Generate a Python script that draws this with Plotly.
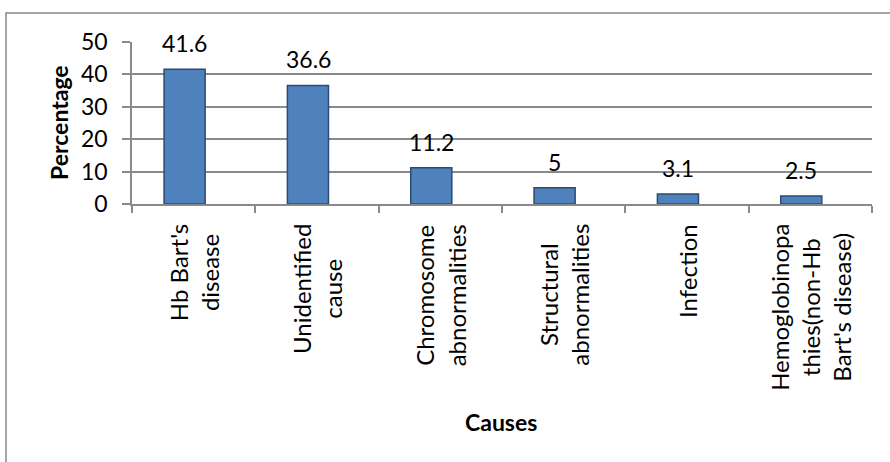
import plotly.graph_objects as go

# Causes and their share (%)
causes = [
    "Hb Bart's<br>disease",
    "Unidentified<br>cause",
    "Chromosome<br>abnormalities",
    "Structural<br>abnormalities",
    "Infection",
    "Hemoglobinopa<br>thies(non-Hb<br>Bart's disease)",
]
percent = [41.6, 36.6, 11.2, 5, 3.1, 2.5]
value_labels = ["41.6", "36.6", "11.2", "5", "3.1", "2.5"]
y_ticks = [0, 10, 20, 30, 40, 50]

FONT = "Lato, 'Liberation Sans', sans-serif"
GRID = "#8a8a8a"

W, H = 890, 462
ML, MR, MT, MB = 132, 18, 42, 258
PW, PH = W - ML - MR, H - MT - MB


def px_x(x):
    return (x - ML) / PW


def px_y(y):
    return (H - MB - y) / PH


fig = go.Figure()
fig.add_trace(go.Bar(
    x=causes,
    y=percent,
    width=0.333,
    offset=-0.24,
    marker=dict(color="#4f81bd", line=dict(color="#2c4a72", width=1.5)),
    hoverinfo="skip",
))

annotations = []
# value labels above each bar
for c, v, t in zip(causes, percent, value_labels):
    annotations.append(dict(
        x=c, y=v, xref="x", yref="y", text=t, showarrow=False,
        xanchor="center", yanchor="middle", xshift=-9, yshift=26,
        font=dict(family=FONT, size=23, color="#000000"),
    ))
# rotated category labels
for c in causes:
    annotations.append(dict(
        x=c, y=0, xref="x", yref="paper", text=c, showarrow=False,
        textangle=-90, xanchor="center", yanchor="top", yshift=-18,
        align="center",
        font=dict(family=FONT, size=24, color="#000000"),
    ))
# axis titles
annotations.append(dict(
    x=px_x(59), y=0.5, xref="paper", yref="paper", text="<b>Percentage</b>",
    showarrow=False, textangle=-90, xanchor="center", yanchor="middle",
    font=dict(family=FONT, size=23, color="#000000"),
))
annotations.append(dict(
    x=px_x(501), y=px_y(422), xref="paper", yref="paper", text="<b>Causes</b>",
    showarrow=False, xanchor="center", yanchor="middle",
    font=dict(family=FONT, size=23, color="#000000"),
))

fig.update_layout(
    width=W, height=H,
    margin=dict(l=ML, r=MR, t=MT, b=MB, pad=0),
    paper_bgcolor="white", plot_bgcolor="white",
    showlegend=False,
    font=dict(family=FONT, size=23, color="#000000"),
    annotations=annotations,
    shapes=[dict(
        type="rect", xref="paper", yref="paper",
        x0=px_x(6), x1=px_x(900), y0=px_y(480), y1=px_y(13),
        line=dict(color="#888888", width=1.5), fillcolor="rgba(0,0,0,0)",
        layer="above",
    )],
    xaxis=dict(
        type="category", showticklabels=False, showgrid=False,
        showline=True, linecolor=GRID, linewidth=1.5,
        ticks="outside", tickson="boundaries", ticklen=7,
        tickcolor=GRID, tickwidth=1.5, fixedrange=True,
    ),
    yaxis=dict(
        range=[0, 50], tickvals=y_ticks, ticktext=[str(v) for v in y_ticks],
        showgrid=True, gridcolor=GRID, gridwidth=1.5,
        showline=True, linecolor=GRID, linewidth=1.5,
        ticks="outside", ticklen=8, tickcolor=GRID, tickwidth=1.5,
        ticklabelstandoff=10, zeroline=False, fixedrange=True,
        tickfont=dict(family=FONT, size=23, color="#000000"),
    ),
)

fig.write_html("out.html", config={"displayModeBar": False})
